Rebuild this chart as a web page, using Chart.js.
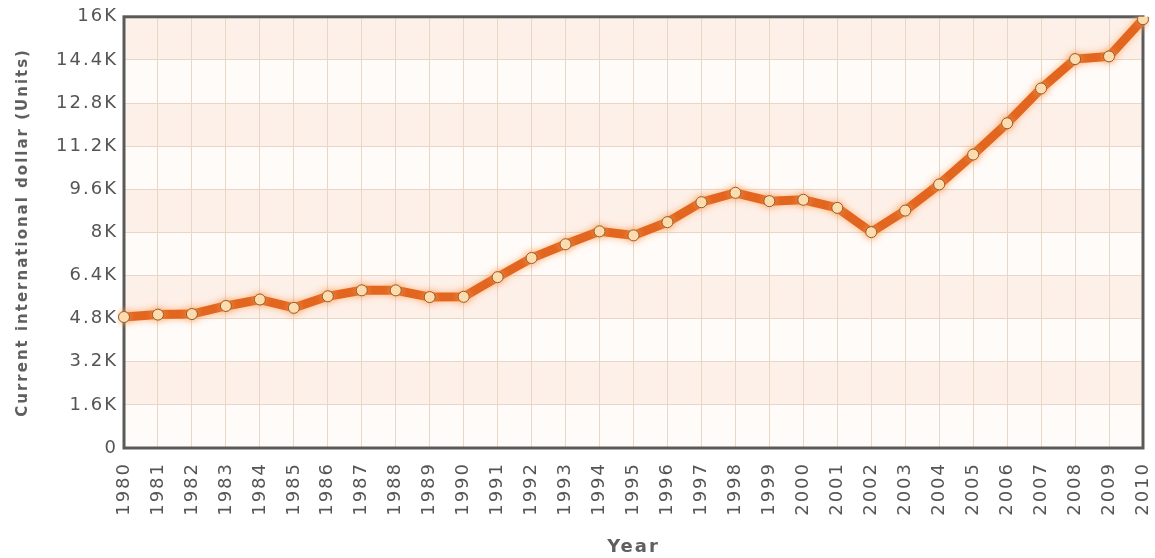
<!DOCTYPE html>
<html>
<head>
<meta charset="utf-8">
<script src="https://cdn.jsdelivr.net/npm/chart.js@4/dist/chart.umd.min.js"></script>
<style>
  html, body { margin: 0; padding: 0; background: #ffffff; }
  #wrap { width: 1155px; height: 558px; position: relative; }
</style>
</head>
<body>
<div id="wrap"><canvas id="c" width="1155" height="558"></canvas></div>
<script>
// Years on the category axis
const years = ['1980','1981','1982','1983','1984','1985','1986','1987','1988','1989',
  '1990','1991','1992','1993','1994','1995','1996','1997','1998','1999',
  '2000','2001','2002','2003','2004','2005','2006','2007','2008','2009','2010'];

// GDP per capita, PPP (current international dollar)
const gdpValues = [4860, 4950, 4970, 5270, 5510, 5200, 5630, 5850, 5850, 5600,
  5610, 6340, 7050, 7560, 8040, 7890, 8380, 9120, 9470, 9160,
  9210, 8910, 8010, 8810, 9780, 10890, 12050, 13340, 14430, 14530, 15910];

// Value axis ticks
const yTickValues = [0, 1600, 3200, 4800, 6400, 8000, 9600, 11200, 12800, 14400, 16000];
const yTickLabels = ['0', '1.6K', '3.2K', '4.8K', '6.4K', '8K', '9.6K', '11.2K', '12.8K', '14.4K', '16K'];

const axisTitleY = 'Current international dollar (Units)';
const axisTitleX = 'Year';

// Slightly wider text spacing for all labels (context state is reset on resize)
const spacingPlugin = {
  id: 'spacing',
  beforeUpdate(chart) { chart.ctx.letterSpacing = '2px'; },
  beforeLayout(chart) { chart.ctx.letterSpacing = '2px'; },
  beforeDraw(chart) { chart.ctx.letterSpacing = '2px'; }
};

// Alternating horizontal bands behind the grid
const bandPlugin = {
  id: 'bands',
  beforeDraw(chart) {
    const { ctx, chartArea, scales } = chart;
    const y = scales.y;
    ctx.save();
    for (let i = 0; i < yTickValues.length - 1; i++) {
      const top = y.getPixelForValue(yTickValues[i + 1]);
      const bottom = y.getPixelForValue(yTickValues[i]);
      ctx.fillStyle = (i % 2 === 1) ? '#fdf0e8' : '#fffbf8';
      ctx.fillRect(chartArea.left, top, chartArea.right - chartArea.left, bottom - top);
    }
    ctx.restore();
  }
};

// Dark frame around the plot area, drawn below the line
const framePlugin = {
  id: 'frame',
  beforeDatasetsDraw(chart) {
    const { ctx, chartArea } = chart;
    ctx.save();
    ctx.strokeStyle = '#5a5a5a';
    ctx.lineWidth = 3;
    ctx.strokeRect(chartArea.left, chartArea.top, chartArea.right - chartArea.left, chartArea.bottom - chartArea.top);
    ctx.restore();
  }
};

// Soft orange glow around the series
const glowPlugin = {
  id: 'glow',
  beforeDatasetDraw(chart) {
    const ctx = chart.ctx;
    ctx.save();
    ctx.shadowColor = 'rgba(255, 160, 90, 0.75)';
    ctx.shadowBlur = 7;
  },
  afterDatasetDraw(chart) {
    chart.ctx.restore();
  }
};

const tickColor = '#555555';
const titleColor = '#5f5f5f';

new Chart(document.getElementById('c'), {
  type: 'line',
  data: {
    labels: years,
    datasets: [{
      data: gdpValues,
      borderColor: '#e2661f',
      borderWidth: 9,
      tension: 0,
      fill: false,
      pointRadius: 5.5,
      pointBackgroundColor: '#fde2b6',
      pointBorderColor: '#8e5e34',
      pointBorderWidth: 1
    }]
  },
  options: {
    responsive: false,
    animation: false,
    layout: { padding: { top: 16, right: 12, left: 0, bottom: 0 } },
    plugins: {
      legend: { display: false },
      tooltip: { enabled: false }
    },
    scales: {
      x: {
        type: 'category',
        offset: false,
        grid: { color: '#e8d6c6', lineWidth: 1, drawTicks: false },
        border: { display: false },
        ticks: {
          autoSkip: false,
          maxRotation: 90,
          minRotation: 90,
          padding: 14,
          color: tickColor,
          font: { family: 'DejaVu Sans', size: 18 }
        },
        title: {
          display: true,
          text: axisTitleX,
          color: titleColor,
          padding: { top: 0, bottom: 0 },
          font: { family: 'DejaVu Sans', size: 18, weight: 'bold' }
        },
        afterFit(scale) {
          scale.height = 110;
          scale.paddingLeft = 0;
          scale.paddingRight = 0;
        }
      },
      y: {
        min: 0,
        max: 16000,
        grid: { color: '#e8d6c6', lineWidth: 1, drawTicks: false },
        border: { display: false },
        afterBuildTicks(scale) {
          scale.ticks = yTickValues.map(v => ({ value: v }));
        },
        ticks: {
          padding: 6,
          color: tickColor,
          font: { family: 'DejaVu Sans', size: 18 },
          callback(value) {
            const i = yTickValues.indexOf(value);
            return i >= 0 ? yTickLabels[i] : '';
          }
        },
        title: {
          display: true,
          text: axisTitleY,
          color: titleColor,
          padding: { top: 14, bottom: 0 },
          font: { family: 'DejaVu Sans', size: 15, weight: 'bold' }
        },
        afterFit(scale) { scale.width = 124; }
      }
    }
  },
  plugins: [spacingPlugin, bandPlugin, framePlugin, glowPlugin]
});
</script>
</body>
</html>
